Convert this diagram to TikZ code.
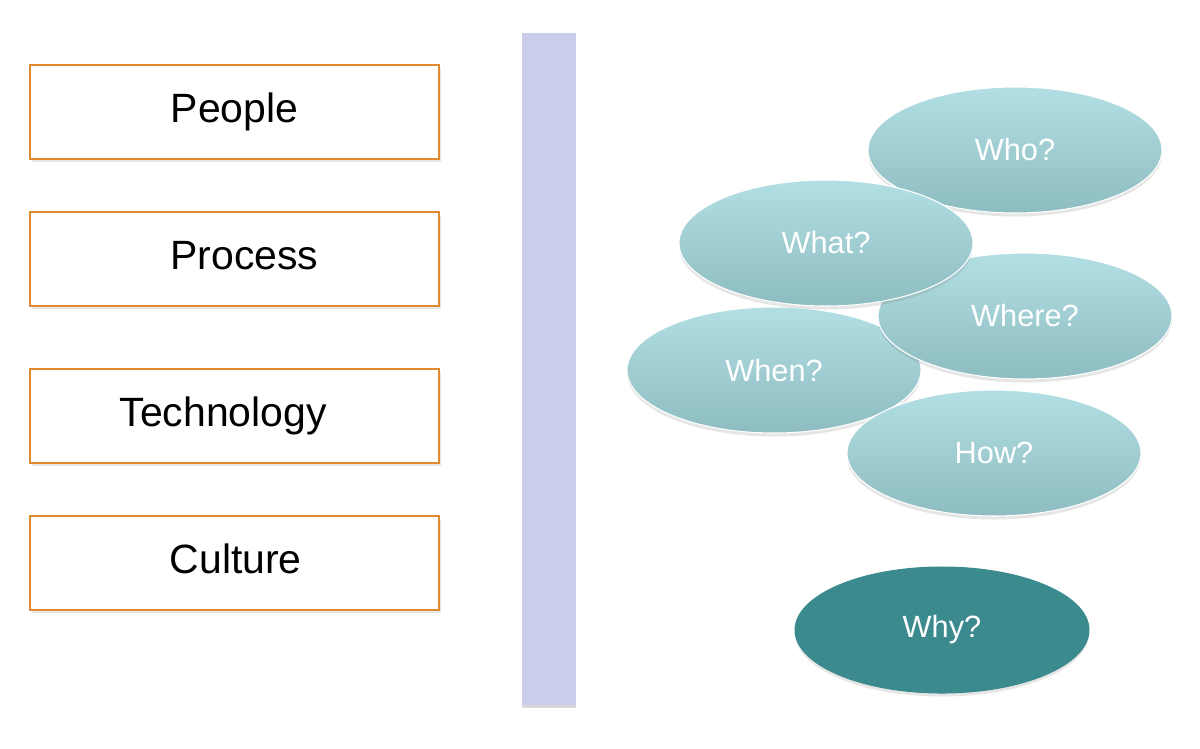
\documentclass[tikz,border=0pt]{standalone}
\usepackage{fontspec}
\setmainfont{Liberation Sans}
\usetikzlibrary{shapes.geometric, shadows}
\definecolor{boxorange}{HTML}{E08A2E}
\definecolor{barlilac}{HTML}{CBCEEB}
\definecolor{bubbletop}{HTML}{B2DFE3}
\definecolor{bubblebot}{HTML}{8DBCC1}
\definecolor{whyteal}{HTML}{3B8A8E}
\begin{document}
\begin{tikzpicture}[x=0.02cm, y=-0.02cm]
\tikzstyle{topic} = [rectangle, draw=boxorange, line width=0.7pt, fill=white, minimum width=8.18cm, minimum height=1.88cm, text height=16.5pt, text depth=4.7pt, font=\fontsize{23.3}{28}\selectfont, drop shadow={opacity=0.2, shadow xshift=1pt, shadow yshift=-1.5pt}]
\tikzstyle{bubble} = [ellipse, draw=white, line width=0.6pt, top color=bubbletop, bottom color=bubblebot, minimum width=5.88cm, minimum height=2.52cm, text=white, font=\fontsize{17.5}{21}\selectfont, drop shadow={opacity=0.2, shadow xshift=0pt, shadow yshift=-2pt}]
\useasboundingbox (0,0) rectangle (1200,748);
% left column
\foreach \name/\y/\txt in {people/112/People, process/259/\hspace*{0.4cm}Process, technology/416/Technology\hspace*{0.45cm}, culture/563/\hspace*{0.05cm}Culture}
\node[topic] (\name) at (234.5,\y) {\txt};
% divider
\node[rectangle, fill=barlilac, minimum width=1.08cm, minimum height=13.44cm, inner sep=0pt, drop shadow={opacity=0.3, shadow xshift=0pt, shadow yshift=-2pt}] (divider) at (549,369) {};
% questions
\foreach \name/\x/\y/\txt in {who/1015/150/Who?, when/774/370/When?, where/1025/316/Where?, what/826/243/What?, how/994/453/How?}
\node[bubble] (\name) at (\x,\y) {\txt};
\node[bubble, top color=whyteal, bottom color=whyteal, draw=whyteal] (why) at (942,630) {Why?};
\end{tikzpicture}
\end{document}
